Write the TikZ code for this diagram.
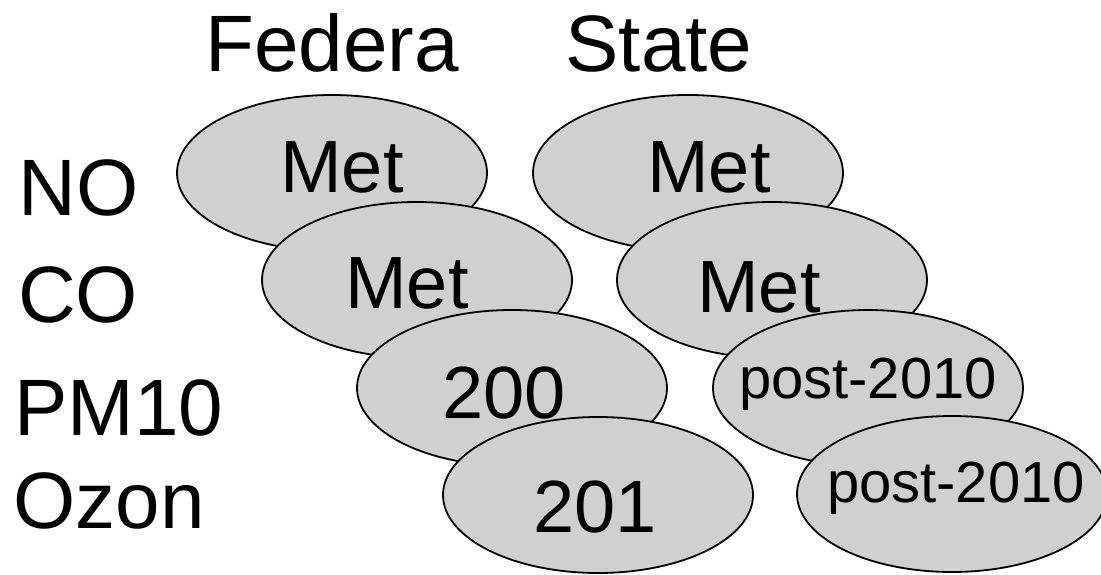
\documentclass[tikz,border=0pt]{standalone}
\usepackage{fontspec}
\setmainfont{Liberation Sans}
\usetikzlibrary{shapes.geometric}
\definecolor{ovalfill}{RGB}{208,208,208}
\tikzset{
  oval/.style={ellipse, draw=black, line width=1.8pt, fill=ovalfill,
    minimum width=310pt, minimum height=156pt, inner sep=0pt},
  bigtext/.style={anchor=base, inner sep=0pt, font=\fontsize{80}{90}\selectfont},
  ovaltext/.style={anchor=base, inner sep=0pt, font=\fontsize{74}{84}\selectfont},
  smalltext/.style={anchor=base, inner sep=0pt, font=\fontsize{58}{66}\selectfont},
}
\begin{document}
\begin{tikzpicture}[x=1pt, y=-1pt]
\useasboundingbox (0,0) rectangle (1101,575);

% column headings
\node[bigtext] (hfed) at (332,72) {Federa};
\node[bigtext] (hstate) at (659,72) {State};

% row labels
\node[bigtext] (rno) at (79,215) {NO};
\node[bigtext] (rco) at (78,322) {CO};
\node[bigtext] (rpm) at (119,435) {PM10};
\node[bigtext] (roz) at (109,528) {Ozon};

% NO row
\node[oval] (f1) at (332,173) {};
\node[oval] (s1) at (688,173) {};
\node[ovaltext] (tf1) at (342,193) {Met};
\node[ovaltext] (ts1) at (709,193) {Met};

% CO row
\node[oval] (f2) at (417,280) {};
\node[oval] (s2) at (772,280) {};
\node[ovaltext] (tf2) at (407,308) {Met};
\node[ovaltext] (ts2) at (759,312) {Met};

% PM10 row
\node[oval] (f3) at (512,388) {};
\node[oval] (s3) at (868,388) {};
\node[ovaltext] (tf3) at (504,418) {200};
\node[smalltext] (ts3) at (868,398) {post-2010};

% Ozone row
\node[oval] (f4) at (598,495) {};
\node[oval] (s4) at (952,494) {};
\node[ovaltext] (tf4) at (595,532) {201};
\node[smalltext] (ts4) at (956,502) {post-2010};
\end{tikzpicture}
\end{document}
